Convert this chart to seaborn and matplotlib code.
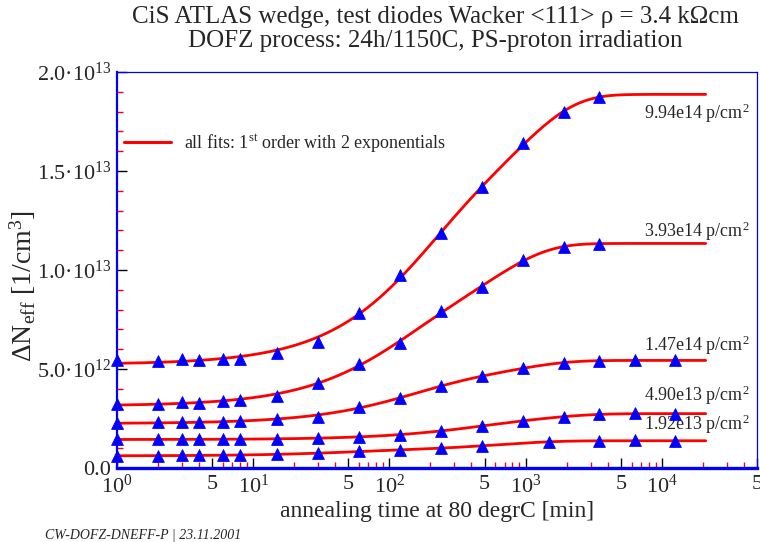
import numpy as np
import pandas as pd
import matplotlib
matplotlib.use("Agg")
import matplotlib.pyplot as plt
from matplotlib.lines import Line2D
from matplotlib.ticker import FixedLocator, NullFormatter
import seaborn as sns

# ---------------- data ----------------
fluences = ["9.94e14", "3.93e14", "1.47e14", "4.90e13", "1.92e13"]

t_E = [1, 2, 3, 4, 6, 8, 15, 30, 60, 120, 240, 480, 960, 1920, 3440]
n_E = [5.45, 5.40, 5.49, 5.45, 5.53, 5.52, 5.82, 6.38, 7.83, 9.75, 11.85, 14.2, 16.4, 18.0, 18.72]

t_D = [1, 2, 3, 4, 6, 8, 15, 30, 60, 120, 240, 480, 960, 1920, 3440]
n_D = [3.25, 3.25, 3.32, 3.30, 3.37, 3.45, 3.62, 4.28, 5.24, 6.33, 7.93, 9.16, 10.5, 11.18, 11.31]

t_C = [1, 2, 3, 4, 6, 8, 15, 30, 60, 120, 240, 480, 960, 1920, 3440, 6400, 12500]
n_C = [2.29, 2.31, 2.31, 2.31, 2.33, 2.36, 2.46, 2.59, 3.08, 3.55, 4.14, 4.65, 5.03, 5.32, 5.40, 5.45, 5.44]

t_B = [1, 2, 3, 4, 6, 8, 15, 30, 60, 120, 240, 480, 960, 1920, 3440, 6400, 12500]
n_B = [1.45, 1.45, 1.45, 1.45, 1.45, 1.45, 1.47, 1.50, 1.57, 1.67, 1.88, 2.14, 2.37, 2.59, 2.71, 2.76, 2.73]

t_A = [1, 2, 3, 4, 6, 8, 15, 30, 60, 120, 240, 480, 1480, 3440, 6400, 12500]
n_A = [0.61, 0.62, 0.64, 0.64, 0.64, 0.66, 0.69, 0.74, 0.84, 0.91, 1.01, 1.11, 1.33, 1.36, 1.41, 1.35]

# label positions (value, in 1e12 /cm3) for the fluence annotations
label_y = [17.93, 11.97, 6.21, 3.69, 2.22]

x_major = [1, 5, 10, 50, 100, 500, 1000, 5000, 10000, 50000]
x_major_labels = ["$10^0$", "5", "$10^1$", "5", "$10^2$", "5", "$10^3$", "5", "$10^4$", "5"]
y_major = [0, 5e12, 1e13, 1.5e13, 2e13]
y_major_labels = ["0.0", "5.0·10$^{12}$", "1.0·10$^{13}$", "1.5·10$^{13}$", "2.0·10$^{13}$"]

series = [(t_E, n_E), (t_D, n_D), (t_C, n_C), (t_B, n_B), (t_A, n_A)]

# ---------------- fits: 1st order with 2 exponentials ----------------
def fit_two_exp(t, n):
    t = np.asarray(t, float)
    n = np.asarray(n, float) * 1e12
    grid = np.logspace(0, 4.5, 70)
    best = None
    for i, t1 in enumerate(grid):
        for t2 in grid[i + 1:]:
            M = np.column_stack([np.ones_like(t), 1 - np.exp(-t / t1), 1 - np.exp(-t / t2)])
            coef, *_ = np.linalg.lstsq(M, n, rcond=None)
            if coef[1] < 0 or coef[2] < 0:
                continue
            sse = np.sum((M @ coef - n) ** 2)
            if best is None or sse < best[0]:
                best = (sse, t1, t2, coef)
    _, t1, t2, c = best
    tt = np.logspace(0, np.log10(21000), 300)
    return tt, c[0] + c[1] * (1 - np.exp(-tt / t1)) + c[2] * (1 - np.exp(-tt / t2))

pts = []
fits = []
for f, (t, n) in zip(fluences, series):
    pts.append(pd.DataFrame({"t": t, "N": np.asarray(n) * 1e12, "fluence": f}))
    tt, yy = fit_two_exp(t, n)
    fits.append(pd.DataFrame({"t": tt, "N": yy, "fluence": f}))
pts = pd.concat(pts, ignore_index=True)
fits = pd.concat(fits, ignore_index=True)

# ---------------- figure ----------------
sns.set_style("white")
plt.rcParams["font.family"] = ["Liberation Serif", "DejaVu Serif"]
plt.rcParams["mathtext.fontset"] = "custom"
plt.rcParams["mathtext.rm"] = "Liberation Serif"
plt.rcParams["mathtext.it"] = "Liberation Serif:italic"
plt.rcParams["mathtext.bf"] = "Liberation Serif:bold"

fig = plt.figure(figsize=(7.6, 5.42), dpi=100)
ax = fig.add_axes([117 / 760, 1 - 468 / 542, 640 / 760, 396 / 542])

for f in fluences:
    sub = fits[fits["fluence"] == f]
    sns.lineplot(data=sub, x="t", y="N", color="#ff0000", linewidth=2.0,
                 ax=ax, legend=False, estimator=None, sort=False, zorder=3)
sns.scatterplot(data=pts, x="t", y="N", marker="^", s=72, color="#0000ff",
                edgecolor="#0000ff", linewidth=0.6, ax=ax, legend=False, zorder=5,
                clip_on=False)

ax.set_xscale("log")
ax.set_xlim(1, 5e4)
ax.set_ylim(0, 2e13)

# ticks
ax.xaxis.set_major_locator(FixedLocator(x_major))
ax.set_xticklabels(x_major_labels)
minors = [m * 10 ** d for d in range(0, 5) for m in (2, 3, 4, 6, 7, 8, 9) if m * 10 ** d < 5e4]
ax.xaxis.set_minor_locator(FixedLocator(minors))
ax.xaxis.set_minor_formatter(NullFormatter())
ax.yaxis.set_major_locator(FixedLocator(y_major))
ax.set_yticklabels(y_major_labels)
ax.yaxis.set_minor_locator(FixedLocator([v * 1e12 for v in range(1, 20) if v % 5 != 0]))
ax.yaxis.set_minor_formatter(NullFormatter())

ax.tick_params(axis="both", which="major", direction="in", color="black", length=7,
               width=1.0, labelsize=16, top=False, right=False, bottom=True, left=True)
ax.tick_params(axis="x", which="major", pad=5)
ax.tick_params(axis="y", which="major", pad=4)
ax.tick_params(axis="both", which="minor", direction="in", color="#ff0000", length=4,
               width=1.0, top=False, right=False, bottom=True, left=True)

for side, lw in (("bottom", 2.4), ("left", 1.6), ("top", 0.9), ("right", 0.9)):
    ax.spines[side].set_color("#0000ff")
    ax.spines[side].set_linewidth(lw)
    ax.spines[side].set_visible(True)

ax.set_xlabel("annealing time at 80 degrC [min]", fontsize=17, labelpad=2)
ax.set_ylabel("ΔN$_{\\mathrm{eff}}$ [1/cm$^3$]", fontsize=20)
ax.yaxis.set_label_coords(-0.123, 0.46)

# fluence labels
for f, yl in zip(fluences, label_y):
    ax.text(0.988, yl * 1e12, f + " p/cm$^2$", transform=ax.get_yaxis_transform(),
            ha="right", va="center", fontsize=13)

# legend
ax.legend(handles=[Line2D([0], [0], color="#ff0000", lw=2.2)],
          labels=["all fits: 1$^{\\mathrm{st}}$ order with 2 exponentials"],
          loc="center left", bbox_to_anchor=(124 / 760, 1 - 143 / 542),
          bbox_transform=fig.transFigure, frameon=False, fontsize=13,
          handlelength=2.6, handletextpad=0.7, borderpad=0, borderaxespad=0)

# title
fig.text(435 / 760, 1 - 6 / 542,
         "CiS ATLAS wedge, test diodes Wacker <111> ρ = 3.4 kΩcm\nDOFZ process: 24h/1150C, PS-proton irradiation",
         ha="center", va="top", fontsize=18, linespacing=1.1)

fig.text(45 / 760, 1 - 535 / 542, "CW-DOFZ-DNEFF-P | 23.11.2001", ha="left", va="center",
         fontsize=10, style="italic")

fig.savefig("out.png", dpi=100)
